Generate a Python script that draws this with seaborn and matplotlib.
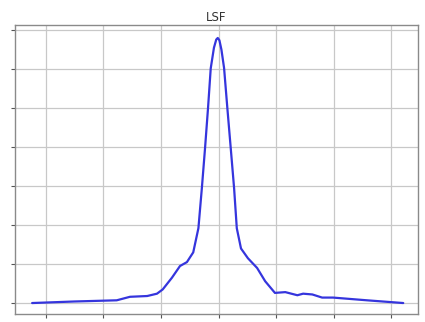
import matplotlib
matplotlib.use("Agg")
import matplotlib.pyplot as plt
import seaborn as sns
import pandas as pd

# Line spread function samples
pos = [-32.4, -25, -17.7, -15.4, -12.4, -10.7, -9.7, -8.1, -6.7, -5.5, -4.4,
       -3.5, -2.9, -2.35, -1.83, -1.36, -0.8, -0.4, -0.14, 0.15, 0.5, 0.96,
       1.53, 2.12, 2.7, 3.17, 3.9, 5.1, 6.7, 8.1, 9.8, 11.6, 13.7, 14.7, 16.3,
       18.0, 19.9, 25.8, 32.1]
lsf = [0.0, 0.04, 0.07, 0.16, 0.18, 0.24, 0.35, 0.65, 0.95, 1.05, 1.3,
       1.92, 2.95, 3.97, 5.0, 6.02, 6.55, 6.76, 6.8, 6.74, 6.5, 6.03,
       5.0, 3.97, 2.95, 1.92, 1.4, 1.15, 0.9, 0.56, 0.26, 0.28, 0.2, 0.24,
       0.22, 0.14, 0.14, 0.07, 0.0]
xticks = [-30, -20, -10, 0, 10, 20, 30]
yticks = [0, 1, 2, 3, 4, 5, 6, 7]
title = "LSF"

sns.set_style("whitegrid")
fig = plt.figure(figsize=(4.25, 3.22), dpi=100)
ax = fig.add_axes([0.035, 0.025, 0.949, 0.897])

df = pd.DataFrame({"pos": pos, "lsf": lsf})
sns.lineplot(data=df, x="pos", y="lsf", ax=ax, color="#3535dd", linewidth=1.6)

ax.set_xlim(-35.4, 34.7)
ax.set_ylim(-0.28, 7.13)
ax.set_xticks(xticks)
ax.set_yticks(yticks)
ax.set_xticklabels([])
ax.set_yticklabels([])
ax.set_xlabel("")
ax.set_ylabel("")
ax.grid(True, color="#c8c8c8", linewidth=0.9)
for s in ax.spines.values():
    s.set_color("#8a8a8a")
    s.set_linewidth(1.0)
ax.tick_params(axis="both", which="both", length=3, width=0.8, color="#555555",
               left=True, bottom=True)
ax.set_title(title, fontsize=8.5, color="#333333", pad=3)

fig.savefig("out.png", dpi=100)
